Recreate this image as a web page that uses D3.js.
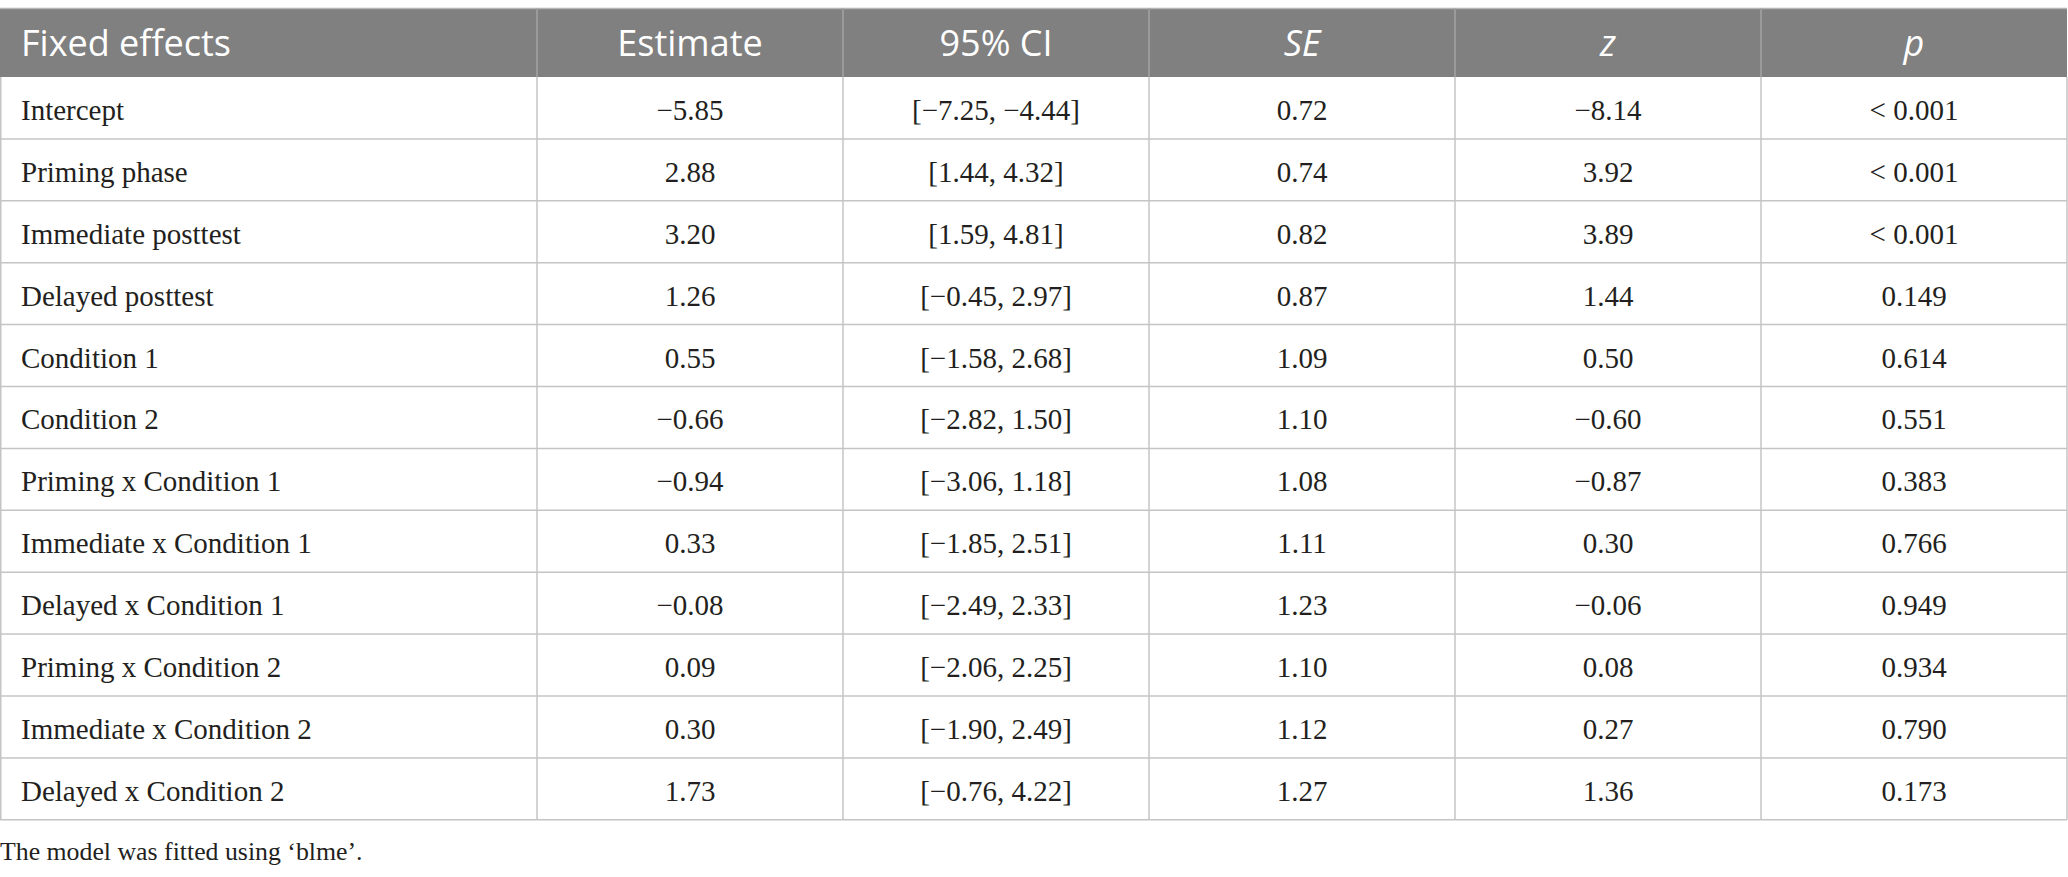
<!DOCTYPE html>
<html>
<head>
<meta charset="utf-8">
<script src="https://cdn.jsdelivr.net/npm/d3@7"></script>
<style>
  html, body { margin: 0; padding: 0; background: #fff; }
  svg { display: block; }
</style>
</head>
<body>
<div id="chart"></div>
<script>
'use strict';

// table content
var effects = [
    'Intercept', 'Priming phase', 'Immediate posttest', 'Delayed posttest',
    'Condition 1', 'Condition 2', 'Priming x Condition 1', 'Immediate x Condition 1',
    'Delayed x Condition 1', 'Priming x Condition 2', 'Immediate x Condition 2',
    'Delayed x Condition 2'
];
var estimates = [-5.85, 2.88, 3.20, 1.26, 0.55, -0.66, -0.94, 0.33, -0.08, 0.09, 0.30, 1.73];
var ciLow  = [-7.25, 1.44, 1.59, -0.45, -1.58, -2.82, -3.06, -1.85, -2.49, -2.06, -1.90, -0.76];
var ciHigh = [-4.44, 4.32, 4.81, 2.97, 2.68, 1.50, 1.18, 2.51, 2.33, 2.25, 2.49, 4.22];
var seValues = [0.72, 0.74, 0.82, 0.87, 1.09, 1.10, 1.08, 1.11, 1.23, 1.10, 1.12, 1.27];
var zValues = [-8.14, 3.92, 3.89, 1.44, 0.50, -0.60, -0.87, 0.30, -0.06, 0.08, 0.27, 1.36];
var pLabels = ['< 0.001', '< 0.001', '< 0.001', '0.149', '0.614', '0.551', '0.383',
    '0.766', '0.949', '0.934', '0.790', '0.173'];
var headers = ['Fixed effects', 'Estimate', '95% CI', 'SE', 'z', 'p'];
var italicHeaders = ['SE', 'z', 'p'];
var footnote = 'The model was fitted using \u2018blme\u2019.';

const width = 2068, height = 877;
const tableTop = 8, headH = 69, rowH = 61.9;
const firstColW = 537;

var f2 = d3.format('.2f');   // d3 v7 uses the real minus sign

var rows = effects.map(function(name, i) {
    return [
        name,
        f2(estimates[i]),
        '[' + f2(ciLow[i]) + ', ' + f2(ciHigh[i]) + ']',
        f2(seValues[i]),
        f2(zValues[i]),
        pLabels[i]
    ];
});

var svg = d3.select('#chart').append('svg')
    .attr('width', width)
    .attr('height', height);

// columns: first one wider, the five number columns share the rest
var colX = d3.scaleBand()
    .domain(d3.range(1, headers.length))
    .range([firstColW, width - 1]);
function colLeft(j) { return j === 0 ? 0 : colX(j); }
function colWidth(j) { return j === 0 ? firstColW : colX.bandwidth(); }

var rowY = d3.scaleBand()
    .domain(d3.range(effects.length))
    .range([tableTop + headH, tableTop + headH + rowH * effects.length]);

// header
svg.append('rect')
    .attr('x', 0).attr('y', tableTop)
    .attr('width', width - 1).attr('height', headH)
    .attr('fill', '#7f807f');

svg.append('line')
    .attr('x1', 0).attr('x2', width - 1)
    .attr('y1', tableTop + 0.5).attr('y2', tableTop + 0.5)
    .attr('stroke', '#b5b5b5').attr('stroke-width', 1.5);

svg.selectAll('.hsep').data(d3.range(1, headers.length))
    .enter().append('line')
    .attr('class', 'hsep')
    .attr('x1', function(j) { return colLeft(j); })
    .attr('x2', function(j) { return colLeft(j); })
    .attr('y1', tableTop).attr('y2', tableTop + headH)
    .attr('stroke', '#a3a3a3').attr('stroke-width', 1.5);

svg.selectAll('.htext').data(headers)
    .enter().append('text')
    .attr('class', 'htext')
    .attr('x', function(d, j) { return j === 0 ? 21 : colLeft(j) + colWidth(j) / 2; })
    .attr('y', tableTop + headH / 2 + 13)
    .attr('text-anchor', function(d, j) { return j === 0 ? 'start' : 'middle'; })
    .attr('font-family', '"Open Sans", "Noto Sans", sans-serif')
    .attr('font-size', 36)
    .attr('font-style', function(d) { return italicHeaders.indexOf(d) >= 0 ? 'italic' : 'normal'; })
    .attr('fill', '#ffffff')
    .text(function(d) { return d; });

// body grid
var bodyTop = rowY(0), bodyBottom = rowY.range()[1];
var grid = svg.append('g')
    .attr('stroke', '#c4c4c4')
    .attr('stroke-width', 1.5);

grid.selectAll('.hline').data(d3.range(1, effects.length + 1))
    .enter().append('line')
    .attr('x1', 0).attr('x2', width - 1)
    .attr('y1', function(i) { return rowY.range()[0] + i * rowY.step(); })
    .attr('y2', function(i) { return rowY.range()[0] + i * rowY.step(); });

grid.selectAll('.vline').data(d3.range(0, headers.length + 1))
    .enter().append('line')
    .attr('x1', function(j) { return j === headers.length ? width - 1 : colLeft(j) + (j === 0 ? 0.75 : 0); })
    .attr('x2', function(j) { return j === headers.length ? width - 1 : colLeft(j) + (j === 0 ? 0.75 : 0); })
    .attr('y1', bodyTop).attr('y2', bodyBottom);

// body cells
var rowG = svg.selectAll('.row').data(rows)
    .enter().append('g')
    .attr('class', 'row')
    .attr('transform', function(d, i) { return 'translate(0,' + rowY(i) + ')'; });

rowG.selectAll('text').data(function(d) { return d; })
    .enter().append('text')
    .attr('x', function(d, j) { return j === 0 ? 21 : colLeft(j) + colWidth(j) / 2; })
    .attr('y', rowY.bandwidth() / 2 + 12)
    .attr('text-anchor', function(d, j) { return j === 0 ? 'start' : 'middle'; })
    .attr('font-family', '"Liberation Serif", "DejaVu Serif", serif')
    .attr('font-size', 29)
    .attr('fill', '#231f20')
    .text(function(d) { return d; });

// footnote
svg.append('text')
    .attr('x', 0)
    .attr('y', bodyBottom + 40)
    .attr('font-family', '"Liberation Serif", "DejaVu Serif", serif')
    .attr('font-size', 25.8)
    .attr('fill', '#231f20')
    .text(footnote);
</script>
</body>
</html>
